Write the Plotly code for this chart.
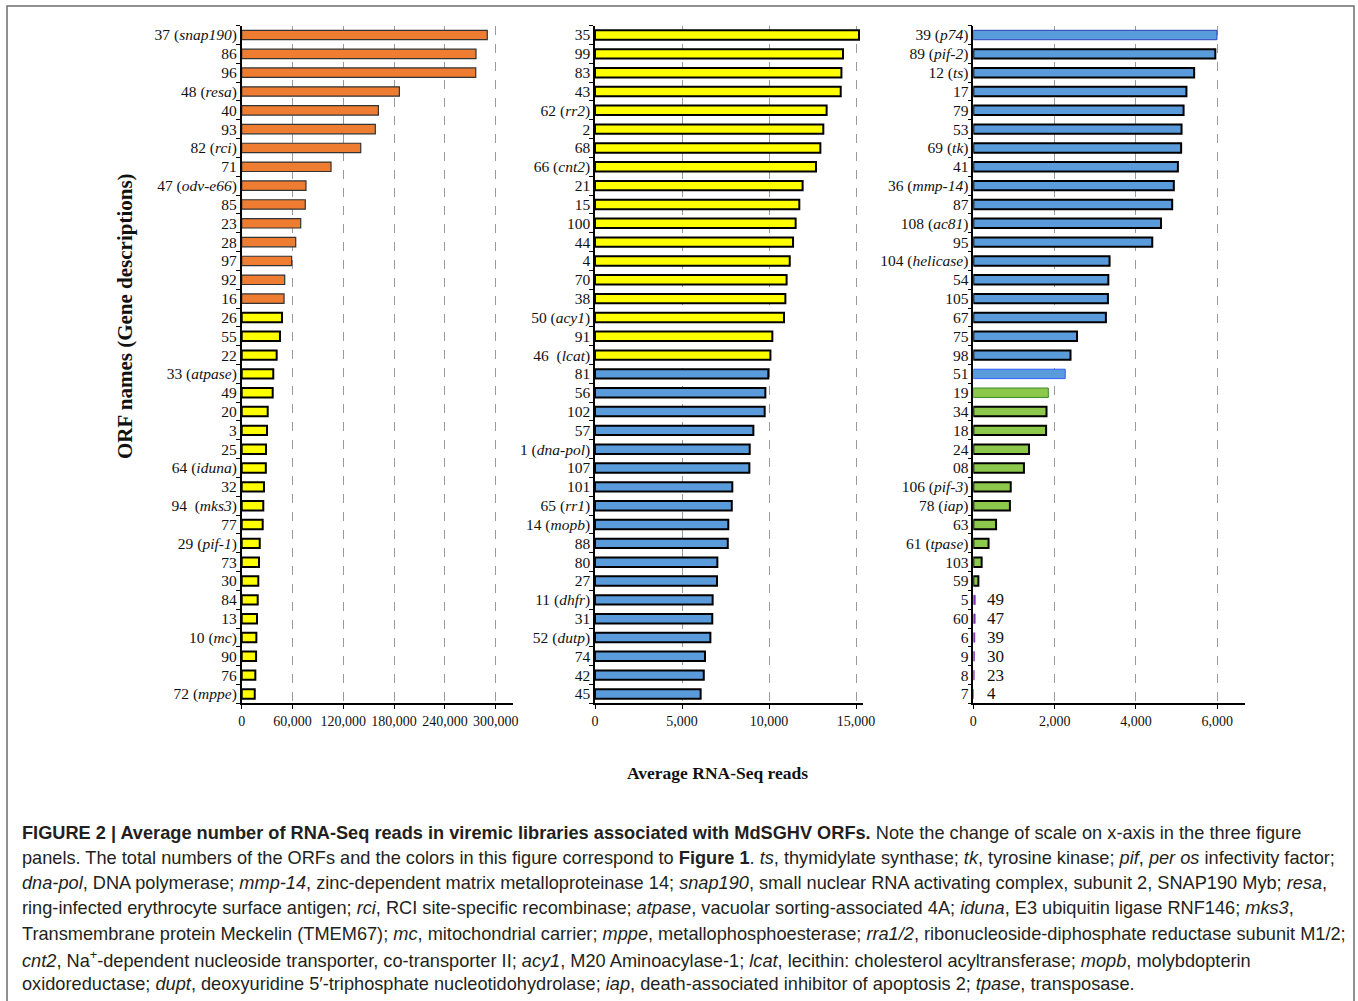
import plotly.graph_objects as go

# ---- Panel 1 (high expression) ----
P1_ORANGE_ORFS = ["37 (<i>snap190</i>)", "86", "96", "48 (<i>resa</i>)", "40", "93", "82 (<i>rci</i>)", "71",
                  "47 (<i>odv-e66</i>)", "85", "23", "28", "97", "92", "16"]
P1_ORANGE_READS = [290000, 276700, 276400, 186200, 161400, 157800, 140600, 105500,
                   75900, 75100, 69700, 63800, 59000, 50800, 50000]
P1_YELLOW_ORFS = ["26", "55", "22", "33 (<i>atpase</i>)", "49", "20", "3", "25", "64 (<i>iduna</i>)", "32",
                  "94  (<i>mks3</i>)", "77", "29 (<i>pif-1</i>)", "73", "30", "84", "13", "10 (<i>mc</i>)",
                  "90", "76", "72 (<i>mppe</i>)"]
P1_YELLOW_READS = [47600, 45200, 41300, 37300, 36600, 30700, 29900, 28700, 28500, 26300,
                   25500, 24800, 21300, 20400, 19600, 18900, 18100, 17300, 17000, 16100, 15400]

# ---- Panel 2 (medium expression) ----
P2_YELLOW_ORFS = ["35", "99", "83", "43", "62 (<i>rr2</i>)", "2", "68", "66 (<i>cnt2</i>)", "21", "15",
                  "100", "44", "4", "70", "38", "50 (<i>acy1</i>)", "91", "46  (<i>lcat</i>)"]
P2_YELLOW_READS = [15170, 14250, 14160, 14120, 13310, 13120, 12950, 12700, 11930, 11740,
                   11530, 11380, 11190, 11010, 10940, 10860, 10190, 10080]
P2_BLUE_ORFS = ["81", "56", "102", "57", "1 (<i>dna-pol</i>)", "107", "101", "65 (<i>rr1</i>)",
                "14 (<i>mopb</i>)", "88", "80", "27", "11 (<i>dhfr</i>)", "31", "52 (<i>dutp</i>)",
                "74", "42", "45"]
P2_BLUE_READS = [9960, 9790, 9750, 9100, 8890, 8870, 7890, 7860, 7660, 7630,
                 7030, 7010, 6760, 6740, 6630, 6320, 6250, 6070]

# ---- Panel 3 (low expression) ----
P3_BLUE_ORFS = ["39 (<i>p74</i>)", "89 (<i>pif-2</i>)", "12 (<i>ts</i>)", "17", "79", "53", "69 (<i>tk</i>)",
                "41", "36 (<i>mmp-14</i>)", "87", "108 (<i>ac81</i>)", "95", "104 (<i>helicase</i>)",
                "54", "105", "67", "75", "98", "51"]
P3_BLUE_READS = [5990, 5950, 5430, 5240, 5170, 5120, 5110, 5030, 4930, 4890, 4615, 4400,
                 3350, 3320, 3310, 3260, 2550, 2390, 2260]
P3_GREEN_ORFS = ["19", "34", "18", "24", "08", "106 (<i>pif-3</i>)", "78 (<i>iap</i>)", "63",
                 "61 (<i>tpase</i>)", "103", "59"]
P3_GREEN_READS = [1845, 1800, 1790, 1370, 1245, 920, 900, 560, 375, 205, 125]
P3_PURPLE_ORFS = ["5", "60", "6", "9", "8", "7"]
P3_PURPLE_READS = [49, 47, 39, 30, 23, 4]

X_TITLE = "Average RNA-Seq reads"
Y_TITLE = "ORF names (Gene descriptions)"

ORANGE = "#EE7D32"
YELLOW = "#FFFF00"
BLUE = "#5A9BDB"
GREEN = "#8CC84B"
PURPLE = "#7A2FA8"

W, H = 1358, 1001
SERIF = "Liberation Serif"
SANS = "Liberation Sans"


def px_x(p):
    return p / W


def px_y(p):
    return 1 - p / H


fig = go.Figure()

# a few bars carry a thin coloured outline instead of the black one
SPECIAL_LINE = {
    "39 (<i>p74</i>)": ("#2B3FB8", 1.0),
    "51": ("#2E5BFF", 1.0),
    "19": ("#3C8C2C", 1.0),
}


def add_bars(labels, values, fill, axis, default_line=("#000000", 2.0)):
    lc = [SPECIAL_LINE.get(l, default_line)[0] for l in labels]
    lw = [SPECIAL_LINE.get(l, default_line)[1] for l in labels]
    fig.add_trace(go.Bar(
        y=labels, x=values, orientation="h", width=0.5,
        marker=dict(color=fill, line=dict(color=lc, width=lw)),
        xaxis="x" + axis, yaxis="y" + axis, showlegend=False,
        hoverinfo="x+y",
    ))


add_bars(P1_ORANGE_ORFS, P1_ORANGE_READS, ORANGE, "", ("#333333", 1.2))
add_bars(P1_YELLOW_ORFS, P1_YELLOW_READS, YELLOW, "")
add_bars(P2_YELLOW_ORFS, P2_YELLOW_READS, YELLOW, "2")
add_bars(P2_BLUE_ORFS, P2_BLUE_READS, BLUE, "2")
add_bars(P3_BLUE_ORFS, P3_BLUE_READS, BLUE, "3")
add_bars(P3_GREEN_ORFS, P3_GREEN_READS, GREEN, "3")
add_bars(P3_PURPLE_ORFS, P3_PURPLE_READS, PURPLE, "3", (PURPLE, 0.6))

y_dom = [px_y(703.4), px_y(25.6)]
panels = [
    ("", [241.7, 513.0], [0, 320400], [0, 60000, 120000, 180000, 240000, 300000],
     P1_ORANGE_ORFS + P1_YELLOW_ORFS),
    ("2", [595.0, 863.0], [0, 15400], [0, 5000, 10000, 15000],
     P2_YELLOW_ORFS + P2_BLUE_ORFS),
    ("3", [973.3, 1245.0], [0, 6680], [0, 2000, 4000, 6000],
     P3_BLUE_ORFS + P3_GREEN_ORFS + P3_PURPLE_ORFS),
]

# value labels beside the tiny bars (category axes place annotations by index)
annotations = []
p3_cats = panels[2][4]
for lab, val in zip(P3_PURPLE_ORFS, P3_PURPLE_READS):
    annotations.append(dict(
        x=0, y=p3_cats.index(lab), xref="x3", yref="y3", text=str(val), showarrow=False,
        xanchor="left", xshift=12, font=dict(family=SERIF, size=17, color="#111111"),
    ))

layout_axes = {}
for suffix, xpx, xr, ticks, cats in panels:
    xname = "xaxis" + suffix
    yname = "yaxis" + suffix
    layout_axes[xname] = dict(
        domain=[px_x(xpx[0]), px_x(xpx[1])], range=xr, anchor="y" + suffix,
        tickmode="array", tickvals=ticks, ticktext=[f"{t:,}" for t in ticks], tickangle=0,
        showline=True, linecolor="#000000", linewidth=1.5,
        ticks="outside", ticklen=4, tickcolor="#000000",
        showgrid=True, gridcolor="#9A9A9A", gridwidth=1, griddash="dash",
        zeroline=False, automargin=False,
        tickfont=dict(family=SERIF, size=14, color="#111111"),
        fixedrange=True,
    )
    layout_axes[yname] = dict(
        domain=y_dom, anchor="x" + suffix, type="category",
        categoryorder="array", categoryarray=cats, range=[len(cats) - 0.5, -0.5],
        tickmode="array", tickvals=cats, ticktext=cats,
        showline=True, linecolor="#000000", linewidth=1.5,
        ticks="outside", ticklen=4, tickcolor="#000000", tickson="boundaries",
        showgrid=False, automargin=False,
        tickfont=dict(family=SERIF, size=15.5, color="#111111"),
        fixedrange=True,
    )

# axis titles
annotations.append(dict(
    x=px_x(717), y=px_y(773), xref="paper", yref="paper", text=f"<b>{X_TITLE}</b>",
    showarrow=False, xanchor="center", yanchor="middle",
    font=dict(family=SERIF, size=17.5, color="#111111"),
))
annotations.append(dict(
    x=px_x(125), y=px_y(316), xref="paper", yref="paper", text=f"<b>{Y_TITLE}</b>",
    showarrow=False, xanchor="center", yanchor="middle", textangle=-90,
    font=dict(family=SERIF, size=21, color="#111111"),
))

# figure caption
CAPTION = [
    "<b>FIGURE 2 | Average number of RNA-Seq reads in viremic libraries associated with MdSGHV ORFs.</b> "
    "Note the change of scale on x-axis in the three figure",
    "panels. The total numbers of the ORFs and the colors in this figure correspond to <b>Figure 1</b>. "
    "<i>ts</i>, thymidylate synthase; <i>tk</i>, tyrosine kinase; <i>pif</i>, <i>per os</i> infectivity factor;",
    "<i>dna-pol</i>, DNA polymerase; <i>mmp-14</i>, zinc-dependent matrix metalloproteinase 14; "
    "<i>snap190</i>, small nuclear RNA activating complex, subunit 2, SNAP190 Myb; <i>resa</i>,",
    "ring-infected erythrocyte surface antigen; <i>rci</i>, RCI site-specific recombinase; "
    "<i>atpase</i>, vacuolar sorting-associated 4A; <i>iduna</i>, E3 ubiquitin ligase RNF146; <i>mks3</i>,",
    "Transmembrane protein Meckelin (TMEM67); <i>mc</i>, mitochondrial carrier; <i>mppe</i>, "
    "metallophosphoesterase; <i>rra1/2</i>, ribonucleoside-diphosphate reductase subunit M1/2;",
    "<i>cnt2</i>, Na<sup>+</sup>-dependent nucleoside transporter, co-transporter II; <i>acy1</i>, "
    "M20 Aminoacylase-1; <i>lcat</i>, lecithin: cholesterol acyltransferase; <i>mopb</i>, molybdopterin",
    "oxidoreductase; <i>dupt</i>, deoxyuridine 5\u2032-triphosphate nucleotidohydrolase; <i>iap</i>, "
    "death-associated inhibitor of apoptosis 2; <i>tpase</i>, transposase.",
]
CAPTION_Y = [833, 858, 883, 908, 934, 959, 984]
for line, yp in zip(CAPTION, CAPTION_Y):
    annotations.append(dict(
        x=px_x(20), y=px_y(yp), xref="paper", yref="paper", text=line,
        showarrow=False, xanchor="left", yanchor="middle",
        font=dict(family=SANS, size=18.2, color="#231F20"),
    ))

fig.update_layout(
    width=W, height=H, autosize=False,
    margin=dict(l=0, r=0, t=0, b=0, pad=0, autoexpand=False),
    paper_bgcolor="#FFFFFF", plot_bgcolor="rgba(0,0,0,0)",
    barmode="overlay", bargap=0.5,
    annotations=annotations,
    shapes=[dict(
        type="rect", xref="paper", yref="paper",
        x0=px_x(7), x1=px_x(1354), y0=-0.02, y1=px_y(6),
        line=dict(color="#6E6E6E", width=1.5), fillcolor="rgba(0,0,0,0)",
    )],
    **layout_axes,
)

fig.write_html("out.html", config={"responsive": False})
